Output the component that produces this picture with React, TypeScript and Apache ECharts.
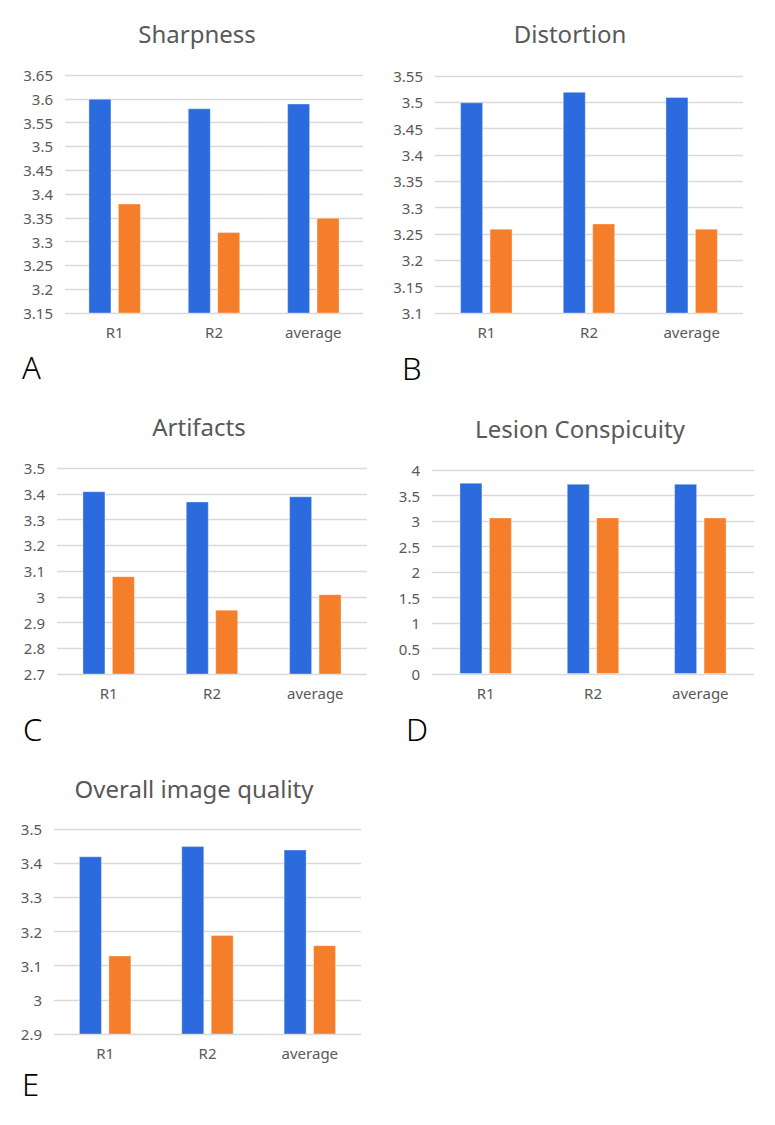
import React, { useEffect, useRef } from "react";
import * as echarts from "echarts";

const categories = ["R1", "R2", "average"];

const titles = ["Sharpness", "Distortion", "Artifacts", "Lesion Conspicuity", "Overall image quality"];
const letters = ["A", "B", "C", "D", "E"];

const sharpnessBlue = [3.6, 3.58, 3.59];
const sharpnessOrange = [3.38, 3.32, 3.35];
const distortionBlue = [3.5, 3.52, 3.51];
const distortionOrange = [3.26, 3.27, 3.26];
const artifactsBlue = [3.41, 3.37, 3.39];
const artifactsOrange = [3.08, 2.95, 3.01];
const lesionBlue = [3.75, 3.73, 3.73];
const lesionOrange = [3.07, 3.07, 3.07];
const overallBlue = [3.42, 3.45, 3.44];
const overallOrange = [3.13, 3.19, 3.16];

const axisMins = [3.15, 3.1, 2.7, 0, 2.9];
const axisMaxs = [3.65, 3.55, 3.5, 4, 3.5];
const axisSteps = [0.05, 0.05, 0.1, 0.5, 0.1];

const blueSeries = [sharpnessBlue, distortionBlue, artifactsBlue, lesionBlue, overallBlue];
const orangeSeries = [sharpnessOrange, distortionOrange, artifactsOrange, lesionOrange, overallOrange];

// layout (pixels)
const grids = [
  { left: 65, top: 75, width: 298, height: 238 },
  { left: 435, top: 76, width: 308, height: 237 },
  { left: 57, top: 468, width: 310, height: 206 },
  { left: 432, top: 470, width: 322, height: 204 },
  { left: 54, top: 829, width: 307, height: 205 },
];
const titlePos = [
  [197, 33],
  [570, 33],
  [199, 426],
  [580, 428],
  [194, 788],
];
const letterPos = [
  [22, 367],
  [402, 368],
  [23, 729],
  [406, 729],
  [22, 1084],
];

const BLUE = "#2B6BDD";
const ORANGE = "#F57E2A";
const FONT = "'Noto Sans', 'DejaVu Sans', sans-serif";

export default function App() {
  const ref = useRef<HTMLDivElement>(null);
  useEffect(() => {
    if (!ref.current) return;
    const chart = echarts.init(ref.current, undefined, { renderer: "svg" });
    const graphic: any[] = [];
    titles.forEach((t, i) => {
      graphic.push({
        type: "text",
        x: titlePos[i][0],
        y: titlePos[i][1],
        style: {
          text: t,
          align: "center",
          verticalAlign: "middle",
          fontSize: 24,
          fontFamily: FONT,
          fill: "#595959",
        },
      });
      graphic.push({
        type: "text",
        x: letterPos[i][0],
        y: letterPos[i][1],
        style: {
          text: letters[i],
          align: "left",
          verticalAlign: "middle",
          fontSize: 31,
          fontWeight: 300,
          fontFamily: FONT,
          fill: "#000000",
        },
      });
    });
    const series: any[] = [];
    blueSeries.forEach((b, i) => {
      series.push({
        type: "bar",
        xAxisIndex: i,
        yAxisIndex: i,
        data: b,
        barWidth: 23,
        barGap: "28%",
        clip: true,
        itemStyle: { color: BLUE, borderColor: "rgba(255,255,255,0.35)", borderWidth: 1 },
      });
      series.push({
        type: "bar",
        xAxisIndex: i,
        yAxisIndex: i,
        data: orangeSeries[i],
        barWidth: 23,
        barGap: "28%",
        clip: true,
        itemStyle: { color: ORANGE, borderColor: "rgba(255,255,255,0.35)", borderWidth: 1 },
      });
    });
    chart.setOption({
      animation: false,
      backgroundColor: "#ffffff",
      grid: grids.map((g) => ({ ...g, containLabel: false })),
      xAxis: grids.map((_, i) => ({
        type: "category",
        gridIndex: i,
        data: categories,
        axisLine: { show: false },
        axisTick: { show: false },
        axisLabel: { color: "#595959", fontSize: 15, fontFamily: FONT, margin: 11 },
      })),
      yAxis: grids.map((_, i) => ({
        type: "value",
        gridIndex: i,
        min: axisMins[i],
        max: axisMaxs[i],
        interval: axisSteps[i],
        axisLine: { show: false },
        axisTick: { show: false },
        axisLabel: {
          color: "#595959",
          fontSize: 15,
          fontFamily: FONT,
          margin: 12,
          formatter: (v: number) => String(parseFloat(v.toFixed(2))),
        },
        splitLine: { show: true, lineStyle: { color: "#D9D9D9", width: 1.3 } },
      })),
      graphic,
      series,
    });
    return () => chart.dispose();
  }, []);
  return (
    <div
      ref={ref}
      style={{ position: "absolute", left: 0, top: 0, width: 775, height: 1125, background: "#fff" }}
    />
  );
}
